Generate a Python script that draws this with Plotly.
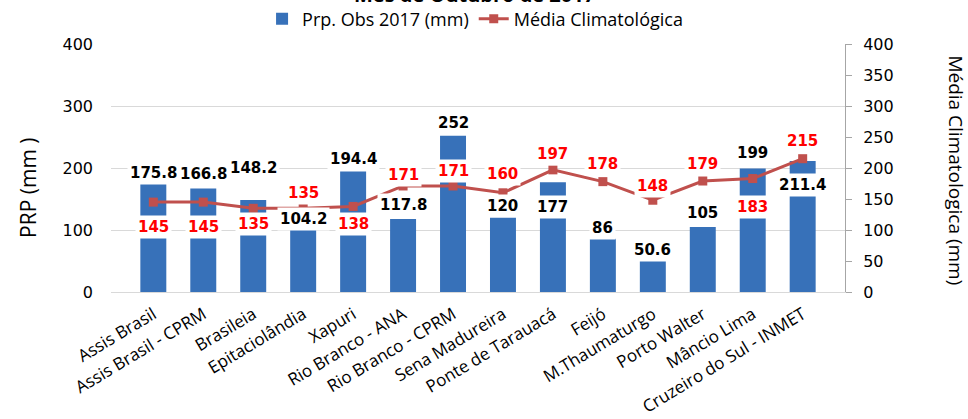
import plotly.graph_objects as go

categories = ["Assis Brasil", "Assis Brasil - CPRM", "Brasileia", "Epitaciolândia", "Xapuri",
              "Rio Branco - ANA", "Rio Branco - CPRM", "Sena Madureira", "Ponte de Tarauacá",
              "Feijó", "M.Thaumaturgo", "Porto Walter", "Mâncio Lima", "Cruzeiro do Sul - INMET"]
obs_2017 = [175.8, 166.8, 148.2, 104.2, 194.4, 117.8, 252, 120, 177, 86, 50.6, 105, 199, 211.4]
media_climatologica = [145, 145, 135, 135, 138, 171, 171, 160, 197, 178, 148, 179, 183, 215]
obs_labels = ["175.8", "166.8", "148.2", "104.2", "194.4", "117.8", "252", "120", "177", "86", "50.6", "105", "199", "211.4"]
media_labels = ["145", "145", "135", "135", "138", "171", "171", "160", "197", "178", "148", "179", "183", "215"]

# label pixel offsets (style only)
obs_shift = [10, 15, 32, 8, 12, 14, 13, 12, -25, 11, 11, 14, 16, -24]
media_shift = [-25, -25, -16, 15, -18, 11, 15, 19, 16, 18, 14, 17, -28, 18]

BLUE = "#3771b9"
RED = "#c0504d"

fig = go.Figure()
fig.add_trace(go.Bar(
    x=categories, y=obs_2017, name="Prp. Obs 2017 (mm)",
    marker=dict(color=BLUE, line=dict(width=0)), width=0.52,
))
fig.add_trace(go.Scatter(
    x=categories, y=media_climatologica, name="Média Climatológica", yaxis="y2",
    mode="lines+markers", line=dict(color=RED, width=3),
    marker=dict(symbol="square", size=9, color=RED),
))

annotations = []
for c, v, t, s in zip(categories, obs_2017, obs_labels, obs_shift):
    annotations.append(dict(x=c, y=v, xref="x", yref="y", text="<b>%s</b>" % t, showarrow=False,
                            yshift=s, font=dict(family="DejaVu Sans", size=15, color="#000000"),
                            bgcolor="white", borderpad=2))
for c, v, t, s in zip(categories, media_climatologica, media_labels, media_shift):
    annotations.append(dict(x=c, y=v, xref="x", yref="y2", text="<b>%s</b>" % t, showarrow=False,
                            yshift=s, font=dict(family="DejaVu Sans", size=15, color="#ff0000"),
                            bgcolor="white", borderpad=2))
annotations.append(dict(x=-0.113, y=0.42, xref="paper", yref="paper", text="PRP (mm )", textangle=-90,
                        showarrow=False, font=dict(family="Open Sans", size=21, color="#000000"),
                        xanchor="center", yanchor="middle"))
annotations.append(dict(x=1.15, y=0.49, xref="paper", yref="paper", text="Média Climatologica (mm)",
                        textangle=90, showarrow=False,
                        font=dict(family="Open Sans", size=19, color="#000000"),
                        xanchor="center", yanchor="middle"))
annotations.append(dict(x=0.495, y=1.199, xref="paper", yref="paper", text="<b>Mês de Outubro de 2017</b>",
                        showarrow=False, font=dict(family="Open Sans", size=20, color="#000000"),
                        xanchor="center", yanchor="middle"))

fig.update_layout(
    width=968, height=419,
    margin=dict(l=111, r=123, t=44, b=127, autoexpand=False),
    paper_bgcolor="white", plot_bgcolor="white",
    font=dict(family="Open Sans", color="#000000"),
    showlegend=True,
    legend=dict(orientation="h", x=0.496, xanchor="center", y=1.101, yanchor="middle",
                font=dict(family="Open Sans", size=18, color="#000000"),
                itemwidth=30, tracegroupgap=0, bgcolor="rgba(0,0,0,0)"),
    bargap=0.48,
    xaxis=dict(type="category", tickangle=-31, tickfont=dict(family="Open Sans", size=17),
               showline=True, linecolor="#d9d9d9", linewidth=1, ticks="", showgrid=False,
               ticklabelstandoff=5, automargin=False),
    yaxis=dict(range=[0, 400], tickvals=[0, 100, 200, 300, 400], showgrid=True, gridcolor="#d9d9d9",
               gridwidth=1, zeroline=False, showline=False, ticks="", automargin=False,
               tickfont=dict(family="DejaVu Sans", size=16), ticklabelstandoff=17),
    yaxis2=dict(range=[0, 400], tickvals=[0, 50, 100, 150, 200, 250, 300, 350, 400], overlaying="y",
                side="right", showgrid=False, zeroline=False, showline=True, linecolor="#a6a6a6",
                ticks="outside", ticklen=6, tickcolor="#a6a6a6", automargin=False,
                tickfont=dict(family="DejaVu Sans", size=16), ticklabelstandoff=8),
    annotations=annotations,
)

fig.write_html("out.html", config={"displayModeBar": False},
               post_script="document.body.style.margin='0';")
